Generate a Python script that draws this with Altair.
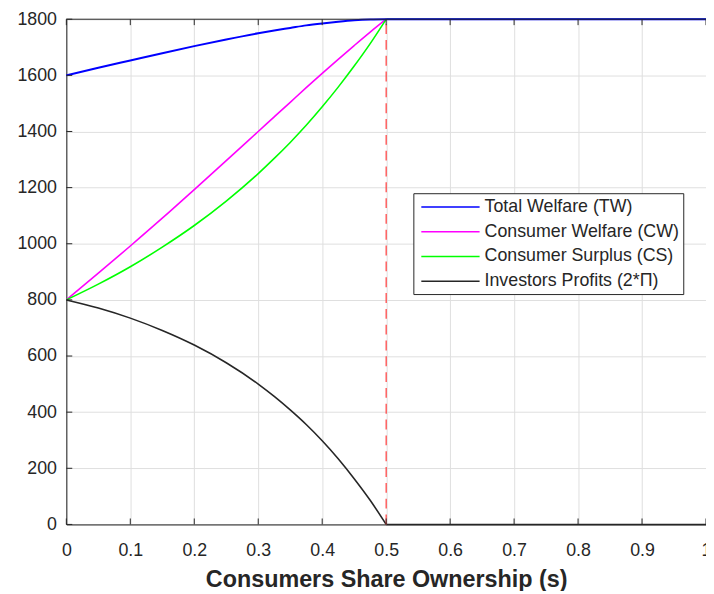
import altair as alt
import pandas as pd

# ---- data ----
s_rise = [0, 0.05, 0.1, 0.15, 0.2, 0.25, 0.3, 0.325, 0.35, 0.375, 0.4,
          0.425, 0.45, 0.475, 0.5]
tw_rise = [1600, 1627, 1653, 1679, 1704, 1728, 1750, 1760, 1769, 1778, 1785,
           1791, 1796, 1799, 1800]
cw_rise = [800, 895, 992, 1091, 1193, 1296, 1400, 1452, 1504, 1556, 1607,
           1657, 1706, 1754, 1800]
cs_rise = [800, 856, 918, 988, 1065, 1152, 1250, 1304, 1361, 1422, 1488,
           1558, 1633, 1713, 1800]
pi_rise = [800, 771, 735, 691, 639, 576, 500, 456, 408, 356, 298,
           234, 163, 86, 0]

s_flat = [0.5, 1.0]
tw_flat = [1800, 1800]
cw_flat = [1800, 1800]
cs_flat = [1800, 1800]
pi_flat = [0, 0]

series_names = ["Total Welfare (TW)", "Consumer Welfare (CW)",
                "Consumer Surplus (CS)", "Investors Profits (2*Π)"]
series_colors = ["#0000ff", "#ff00ff", "#00ff00", "#262626"]

x_ticks = [0, 0.1, 0.2, 0.3, 0.4, 0.5, 0.6, 0.7, 0.8, 0.9, 1]
y_ticks = [0, 200, 400, 600, 800, 1000, 1200, 1400, 1600, 1800]
cutoff_s = 0.5
y_top = 1800
y_bottom = 0

rows = []
for name, rise, flat in zip(series_names,
                            [tw_rise, cw_rise, cs_rise, pi_rise],
                            [tw_flat, cw_flat, cs_flat, pi_flat]):
    for s, v in zip(s_rise, rise):
        rows.append({"s": s, "value": v, "series": name, "seg": "rise"})
    for s, v in zip(s_flat, flat):
        rows.append({"s": s, "value": v, "series": name, "seg": "flat"})
df = pd.DataFrame(rows)

FONT = "Liberation Sans"
AX = "#262626"

x_enc = alt.X(
    "s:Q",
    scale=alt.Scale(domain=[0, 1], nice=False),
    axis=alt.Axis(values=x_ticks, format="~g", labelFlush=False, ticks=False,
                  tickSize=0, labelFontSize=18, labelFont=FONT, labelColor=AX,
                  labelPadding=17, title="Consumers Share Ownership (s)",
                  titleFont=FONT, titleFontSize=23.6, titleFontWeight="bold",
                  titleColor=AX, titlePadding=9, grid=True,
                  gridColor="#dfdfdf", domainColor=AX, labelOverlap=False),
)
y_enc = alt.Y(
    "value:Q",
    scale=alt.Scale(domain=[0, 1800], nice=False),
    axis=alt.Axis(values=y_ticks, format="d", ticks=False, tickSize=0,
                  labelFontSize=18, labelFont=FONT, labelColor=AX,
                  labelPadding=10, title=None, grid=True,
                  gridColor="#dfdfdf", domainColor=AX, labelOverlap=False),
)

color_enc = alt.Color(
    "series:N",
    scale=alt.Scale(domain=series_names, range=series_colors),
    legend=alt.Legend(orient="none", legendX=351, legendY=176, title=None,
                      symbolType="M-5.55,0H1", symbolSize=324,
                      symbolStrokeWidth=1.5, labelFontSize=18, labelFont=FONT,
                      labelColor=AX, strokeColor=AX, fillColor="white",
                      padding=4, rowPadding=6, labelOffset=4,
                      symbolOffset=44, labelLimit=400),
)

base = alt.Chart(df)
others = base.transform_filter(alt.datum.series != series_names[0]).mark_line(
    strokeWidth=1.6, interpolate="monotone"
).encode(x=x_enc, y=y_enc, color=color_enc, detail="seg:N")
tw = base.transform_filter(alt.datum.series == series_names[0]).mark_line(
    strokeWidth=2, interpolate="monotone"
).encode(x=x_enc, y=y_enc, color=color_enc, detail="seg:N")

cut = alt.Chart(pd.DataFrame({"s": [cutoff_s]})).mark_rule(
    color="#ff3b3b", strokeWidth=1.2, strokeDash=[10, 6]
).encode(x=alt.X("s:Q"), y=alt.datum(y_bottom), y2=alt.datum(y_top))

top_border = alt.Chart(pd.DataFrame({"s": [0], "s2": [1]})).mark_rule(
    color=AX, strokeWidth=1
).encode(x=alt.X("s:Q"), x2="s2:Q", y=alt.datum(y_top))

xt = pd.DataFrame({"s": x_ticks})
yt = pd.DataFrame({"value": y_ticks})
bottom_ticks = alt.Chart(xt).mark_rule(color=AX).encode(
    x=alt.X("s:Q"), y=alt.value(511), y2=alt.value(505))
top_ticks = alt.Chart(xt).mark_rule(color=AX).encode(
    x=alt.X("s:Q"), y=alt.value(0), y2=alt.value(6))
left_ticks = alt.Chart(yt).mark_rule(color=AX).encode(
    y=alt.Y("value:Q"), x=alt.value(0), x2=alt.value(6))

chart = alt.layer(
    others, cut, tw, top_border, bottom_ticks, top_ticks, left_ticks
).properties(
    width=647, height=511,
    autosize=alt.AutoSizeParams(type="none"),
    padding={"left": 59, "top": 8, "right": 0, "bottom": 64},
).configure_view(strokeWidth=0).configure(background="white")

chart.save("out.html", embed_options={"renderer": "svg", "actions": False})
